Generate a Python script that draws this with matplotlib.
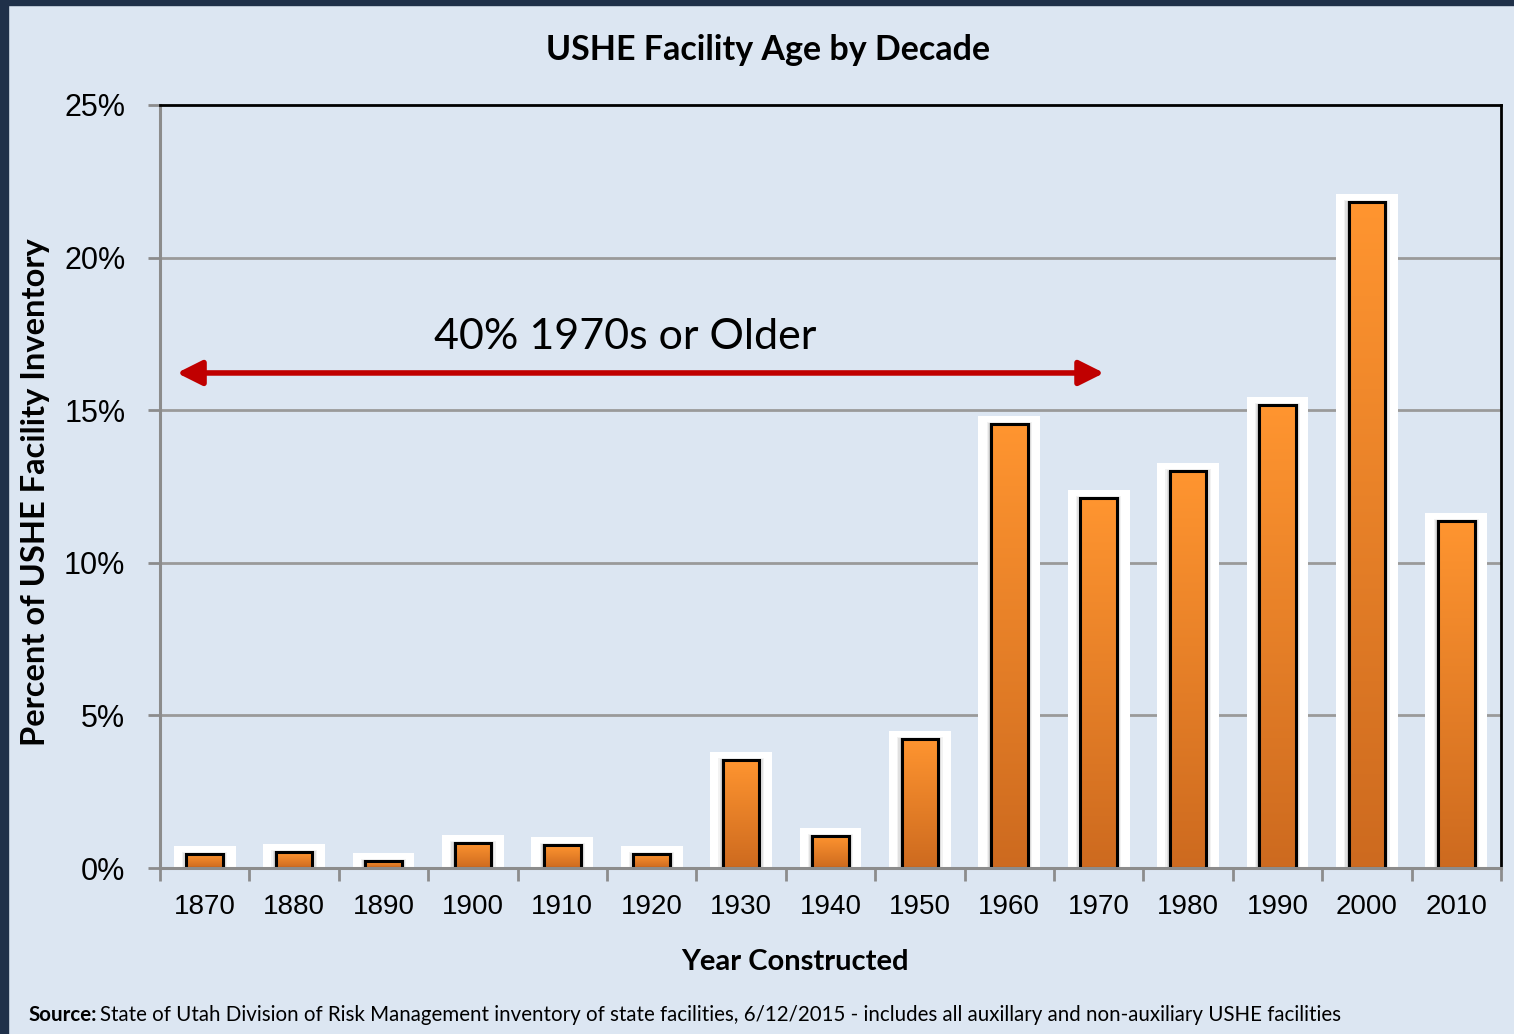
import matplotlib
matplotlib.use("Agg")
import matplotlib.pyplot as plt
import numpy as np
from matplotlib.patches import Rectangle, FancyArrowPatch
from matplotlib.colors import LinearSegmentedColormap

decades = ["1870", "1880", "1890", "1900", "1910", "1920", "1930", "1940",
           "1950", "1960", "1970", "1980", "1990", "2000", "2010"]
percent = [0.46, 0.52, 0.23, 0.82, 0.75, 0.46, 3.54, 1.05,
           4.23, 14.55, 12.12, 13.0, 15.17, 21.82, 11.37]
yticks = [0, 5, 10, 15, 20, 25]
ytick_labels = ["0%", "5%", "10%", "15%", "20%", "25%"]

W, H = 1514, 1034
BG = "#DCE6F2"
fig = plt.figure(figsize=(W / 100, H / 100), dpi=100, facecolor=BG)
# dark border
fig.patches.append(Rectangle((0, 0), 8 / W, 1, transform=fig.transFigure, color="#1F3049", zorder=-1))
fig.patches.append(Rectangle((0, 1 - 5 / H), 1, 5 / H, transform=fig.transFigure, color="#1F3049", zorder=-1))

L, R, T, B = 160, 1501, 105, 868
ax = fig.add_axes([L / W, 1 - B / H, (R - L) / W, (B - T) / H])
ax.set_facecolor(BG)
ax.set_xlim(-0.5, len(decades) - 0.5)
ax.set_ylim(0, 25)

for y in yticks[1:-1]:
    ax.axhline(y, color="#9A9A9A", lw=2, zorder=1)

cmap = LinearSegmentedColormap.from_list("o", ["#CD6A1F", "#FF9530"])
grad = np.linspace(0, 1, 256).reshape(-1, 1)
bw = 0.41
gw = 0.69
for i, v in enumerate(percent):
    # white glow
    ax.add_patch(Rectangle((i - gw / 2, 0), gw, v + 0.26, facecolor="white", edgecolor="none", zorder=2))
    for k, a in enumerate([0.05, 0.07, 0.09]):
        pad = 0.05 - k * 0.015
        ax.add_patch(Rectangle((i - bw / 2 - pad, 0), bw + 2 * pad, v + pad * 1.2,
                               facecolor="black", alpha=a, edgecolor="none", zorder=3))
    rect = Rectangle((i - bw / 2, 0), bw, v, facecolor="none", edgecolor="black", lw=2.2, zorder=5)
    ax.add_patch(rect)
    im = ax.imshow(grad, extent=(i - bw / 2, i + bw / 2, 0, v), origin="lower",
                   cmap=cmap, aspect="auto", zorder=4)
    im.set_clip_path(rect)

ax.set_xticks(np.arange(-0.5, len(decades), 1.0))
ax.set_xticklabels([])
ax.set_xticks(np.arange(len(decades)), minor=True)
ax.set_xticklabels(decades, minor=True, fontsize=20, family="Liberation Sans")
ax.tick_params(axis="x", which="major", length=9, width=2, color="#8C8C8C", direction="out")
ax.tick_params(axis="x", which="minor", length=0, pad=19)
ax.set_yticks(yticks)
ax.set_yticklabels(ytick_labels, fontsize=22, family="Liberation Sans")
ax.tick_params(axis="y", length=9, width=2, color="#8C8C8C", direction="out", pad=16)

ax.spines["left"].set_color("#8C8C8C")
ax.spines["bottom"].set_color("#8C8C8C")
ax.spines["left"].set_linewidth(2.2)
ax.spines["bottom"].set_linewidth(2.2)
ax.spines["top"].set_color("black")
ax.spines["right"].set_color("black")
ax.spines["top"].set_linewidth(2)
ax.spines["right"].set_linewidth(2)
for s in ax.spines.values():
    s.set_zorder(6)

ax.set_xlabel("Year Constructed", fontsize=21, fontweight="bold", family="Lato")
ax.xaxis.set_label_coords((795 - L) / (R - L), -(962 - B) / (B - T), transform=ax.transAxes)
ax.xaxis.label.set_va("center")
ax.set_ylabel("Percent of USHE Facility Inventory", fontsize=23.5, fontweight="bold", family="Lato")
ax.yaxis.set_label_coords(-(L - 36) / (R - L), (B - 492) / (B - T), transform=ax.transAxes)
ax.yaxis.label.set_va("center")

fig.text(768 / W, 1 - 50 / H, "USHE Facility Age by Decade", ha="center", va="center",
         fontsize=24.5, fontweight="bold", family="Lato")

# annotation arrow
arr = FancyArrowPatch((-0.31, 16.22), (10.06, 16.22), arrowstyle="<|-|>,head_length=10,head_width=5",
                      color="#C00000", lw=4, mutation_scale=1.5, shrinkA=0, shrinkB=0, zorder=7)
ax.add_patch(arr)
ax.text(4.7, 17.4, "40% 1970s or Older", ha="center", va="center", fontsize=31, family="Lato", zorder=7)

src1 = fig.text(28 / W, 1 - 1015 / H, "Source:", ha="left", va="center", fontsize=14.8,
                family="Lato", fontweight="bold")
fig.canvas.draw()
bb = src1.get_window_extent()
fig.text((bb.x1 + 4) / W, 1 - 1015 / H,
         "State of Utah Division of Risk Management inventory of state facilities, 6/12/2015 - includes all auxillary and non-auxiliary USHE facilities",
         ha="left", va="center", fontsize=14.8, family="Lato")

fig.savefig("out.png", dpi=100, facecolor=BG)
